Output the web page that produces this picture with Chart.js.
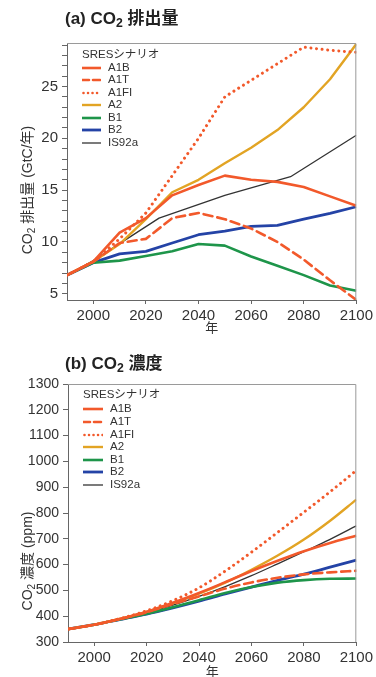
<!DOCTYPE html>
<html><head><meta charset="utf-8">
<script src="https://cdn.jsdelivr.net/npm/chart.js@4.4.1/dist/chart.umd.min.js"></script>
<style>
html,body{margin:0;padding:0;width:376px;height:677px;overflow:hidden;background:#fff;font-family:"Liberation Sans","Noto Sans CJK JP",sans-serif;color:#333}
#wrap{position:relative;width:376px;height:677px;overflow:hidden}
canvas{position:absolute;left:0}
.title{position:absolute;left:65px;font-weight:bold;font-size:17px;color:#222;line-height:1;white-space:nowrap;transform:translateY(-50%)}
.title sub{font-size:72%;vertical-align:-0.28em;line-height:0}
.ytitle{position:absolute;white-space:nowrap;font-size:14px;color:#333;line-height:1;transform:translate(-50%,-50%) rotate(-90deg)}
.ytitle sub{font-size:72%;vertical-align:-0.25em;line-height:0}
.legend{position:absolute;font-size:11.5px;color:#333;line-height:1}
.legend div{position:absolute;white-space:nowrap;transform:translateY(-50%)}
.legend svg{position:absolute}
</style></head>
<body><div id="wrap">
<canvas id="cA" width="376" height="340" style="top:0;width:376px;height:340px"></canvas>
<canvas id="cB" width="376" height="345" style="top:340px;width:376px;height:345px"></canvas>
<div class="title" style="top:18px">(a) CO<sub>2</sub> 排出量</div>
<div class="title" style="top:363px">(b) CO<sub>2</sub> 濃度</div>
<div class="ytitle" style="left:27px;top:190px">CO<sub>2</sub> 排出量 (GtC/年)</div>
<div class="ytitle" style="left:27px;top:561px">CO<sub>2</sub> 濃度 (ppm)</div>
<div class="legend" id="legA"></div>
<div class="legend" id="legB"></div>
</div>
<script>
// ---- data ----
const years = [1990, 2000, 2010, 2020, 2030, 2040, 2050, 2060, 2070, 2080, 2090, 2100];
const yearsIS92a = [1990, 2000, 2025, 2050, 2075, 2100];
const seriesNames = ['A1B', 'A1T', 'A1FI', 'A2', 'B1', 'B2', 'IS92a'];
const legendTitle = 'SRESシナリオ';

// (a) CO2 emissions, GtC/yr
const emA1B   = [6.8, 8.1, 10.9, 12.3, 14.5, 15.5, 16.4, 16.0, 15.8, 15.3, 14.4, 13.5];
const emA1T   = [6.8, 8.1, 9.9, 10.3, 12.3, 12.8, 12.2, 11.3, 10.0, 8.3, 6.3, 4.4];
const emA1FI  = [6.8, 8.1, 10.3, 12.8, 16.4, 20.0, 24.0, 25.6, 27.2, 28.8, 28.5, 28.3];
const emA2    = [6.8, 8.1, 9.8, 12.2, 14.8, 16.0, 17.6, 19.1, 20.8, 23.0, 25.7, 29.1];
const emB1    = [6.8, 8.0, 8.2, 8.65, 9.1, 9.8, 9.65, 8.6, 7.7, 6.8, 5.8, 5.3];
const emB2    = [6.8, 8.0, 8.85, 9.1, 9.9, 10.7, 11.05, 11.5, 11.6, 12.2, 12.75, 13.4];
const emIS92a = [6.8, 8.2, 12.3, 14.5, 16.3, 20.3];

// (b) CO2 concentration, ppm
const cA1B   = [350, 367, 390, 417, 452, 490, 532, 575, 615, 652, 684, 712];
const cA1T   = [350, 367, 389, 415, 447, 477, 507, 531, 549, 562, 570, 576];
const cA1FI  = [350, 367, 391, 421, 460, 510, 575, 648, 725, 803, 882, 965];
const cA2    = [350, 367, 390, 417, 450, 487, 530, 580, 635, 697, 770, 852];
const cB1    = [350, 367, 388, 410, 435, 462, 490, 513, 530, 540, 545, 546];
const cB2    = [350, 367, 388, 408, 432, 458, 486, 513, 539, 563, 590, 617];
const cIS92a = [350, 367, 388, 413, 443, 477, 515, 557, 603, 650, 698, 750];

// ticks
const xTicks = [2000, 2020, 2040, 2060, 2080, 2100];
const emMajorTicks = [5, 10, 15, 20, 25];
const cTicks = [300, 400, 500, 600, 700, 800, 900, 1000, 1100, 1200, 1300];

// ---- styles ----
const RED = '#F2592B', GOLD = '#E2A424', GREEN = '#1E954A', BLUE = '#2443A6', BLACK = '#333333';
const styleOf = {
  A1B:   {color: RED,   dash: [],        width: 2.6},
  A1T:   {color: RED,   dash: [9, 5],    width: 2.6},
  A1FI:  {color: RED,   dash: [0.01, 5.6], width: 3},
  A2:    {color: GOLD,  dash: [],        width: 2.4},
  B1:    {color: GREEN, dash: [],        width: 2.6},
  B2:    {color: BLUE,  dash: [],        width: 2.8},
  IS92a: {color: BLACK, dash: [],        width: 1.3}
};

Chart.defaults.font.family = '"Liberation Sans","Noto Sans CJK JP",sans-serif';
Chart.defaults.color = '#333';

function pts(xs, ys) { return xs.map((x, i) => ({x: x, y: ys[i]})); }
function ds(name, xs, ys, smooth) {
  const s = styleOf[name];
  return {
    label: name, data: pts(xs, ys), borderColor: s.color, backgroundColor: s.color,
    borderWidth: s.width, borderDash: s.dash, borderCapStyle: s.dash.length ? 'round' : 'butt',
    borderJoinStyle: 'round', pointRadius: 0, fill: false,
    tension: smooth ? 0.4 : 0, cubicInterpolationMode: smooth ? 'monotone' : 'default'
  };
}

const boxPlugin = {
  id: 'box',
  afterDraw(chart) {
    const a = chart.chartArea, ctx = chart.ctx;
    ctx.save();
    ctx.strokeStyle = '#9a9a9a'; ctx.lineWidth = 1;
    ctx.beginPath();
    ctx.moveTo(a.left, a.top + 0.5); ctx.lineTo(a.right - 0.5, a.top + 0.5); ctx.lineTo(a.right - 0.5, a.bottom);
    ctx.stroke();
    ctx.restore();
  }
};

function xScale(axisHeight, titlePadBottom) {
  return {
    type: 'linear', min: 1990, max: 2100,
    afterBuildTicks: s => { s.ticks = xTicks.map(v => ({value: v})); },
    afterFit: s => { s.height = axisHeight; },
    ticks: {font: {size: 15}, color: '#333', padding: 3, maxRotation: 0, autoSkip: false, callback: v => String(v)},
    grid: {display: true, drawOnChartArea: false, drawTicks: true, tickLength: 4, color: '#666'},
    border: {display: true, color: '#666', width: 1},
    title: {display: true, text: '年', font: {size: 13}, color: '#333', padding: {top: 0, bottom: titlePadBottom}}
  };
}

new Chart(document.getElementById('cA'), {
  type: 'line',
  data: {datasets: [
    ds('A1B', years, emA1B), ds('A1T', years, emA1T), ds('A1FI', years, emA1FI),
    ds('A2', years, emA2), ds('B1', years, emB1), ds('B2', years, emB2), ds('IS92a', yearsIS92a, emIS92a)
  ]},
  options: {
    responsive: false, animation: false, devicePixelRatio: 1,
    layout: {padding: {left: 0, right: 15, top: 43, bottom: 0}},
    plugins: {legend: {display: false}, tooltip: {enabled: false}, title: {display: false}},
    scales: {
      x: xScale(40, 4),
      y: {
        type: 'linear', min: 4.4, max: 29.2,
        afterBuildTicks: s => {
          const t = [];
          for (let v = emMajorTicks[0]; v <= 29; v++) t.push({value: v});
          s.ticks = t;
        },
        afterFit: s => { s.width = 67; },
        ticks: {font: {size: 15}, color: '#333', padding: 4, autoSkip: false,
                callback: v => emMajorTicks.includes(v) ? String(v) : ''},
        grid: {display: true, drawOnChartArea: false, drawTicks: true, tickLength: 5, color: '#666'},
        border: {display: true, color: '#666', width: 1}
      }
    }
  },
  plugins: [boxPlugin]
});

new Chart(document.getElementById('cB'), {
  type: 'line',
  data: {datasets: [
    ds('A1B', years, cA1B, true), ds('A1T', years, cA1T, true), ds('A1FI', years, cA1FI, true),
    ds('A2', years, cA2, true), ds('B1', years, cB1, true), ds('B2', years, cB2, true), ds('IS92a', years, cIS92a, true)
  ]},
  options: {
    responsive: false, animation: false, devicePixelRatio: 1,
    layout: {padding: {left: 0, right: 15, top: 44, bottom: 0}},
    plugins: {legend: {display: false}, tooltip: {enabled: false}, title: {display: false}},
    scales: {
      x: xScale(43, 5),
      y: {
        type: 'linear', min: 300, max: 1300,
        afterBuildTicks: s => { s.ticks = cTicks.map(v => ({value: v})); },
        afterFit: s => { s.width = 68; },
        ticks: {font: {size: 14}, color: '#333', padding: 4, autoSkip: false, callback: v => String(v)},
        grid: {display: true, drawOnChartArea: false, drawTicks: true, tickLength: 5, color: '#666'},
        border: {display: true, color: '#666', width: 1}
      }
    }
  },
  plugins: [boxPlugin]
});

// ---- HTML legends ----
function buildLegend(id, titleY, firstY, step, x0, x1, textX) {
  const el = document.getElementById(id);
  let html = `<div style="left:${x0}px;top:${titleY}px">${legendTitle}</div>`;
  seriesNames.forEach((n, i) => {
    const s = styleOf[n];
    const y = firstY + i * step;
    const dash = n === 'A1T' ? '7 4' : (n === 'A1FI' ? '0.01 4.5' : 'none');
    const cap = s.dash.length ? 'round' : 'butt';
    const w = n === 'A1FI' ? 2.6 : s.width;
    html += `<svg style="left:${x0}px;top:${y - 4}px" width="${x1 - x0}" height="8"><line x1="${n === 'A1FI' ? 1.5 : 0}" y1="4" x2="${x1 - x0}" y2="4" stroke="${s.color}" stroke-width="${w}" stroke-dasharray="${dash}" stroke-linecap="${cap}"/></svg>`;
    html += `<div style="left:${textX}px;top:${y}px">${n}</div>`;
  });
  el.innerHTML = html;
}
buildLegend('legA', 54.5, 67.7, 12.5, 82, 101, 108);
buildLegend('legB', 395, 409.3, 12.6, 83, 103, 110);
</script>
</body></html>
